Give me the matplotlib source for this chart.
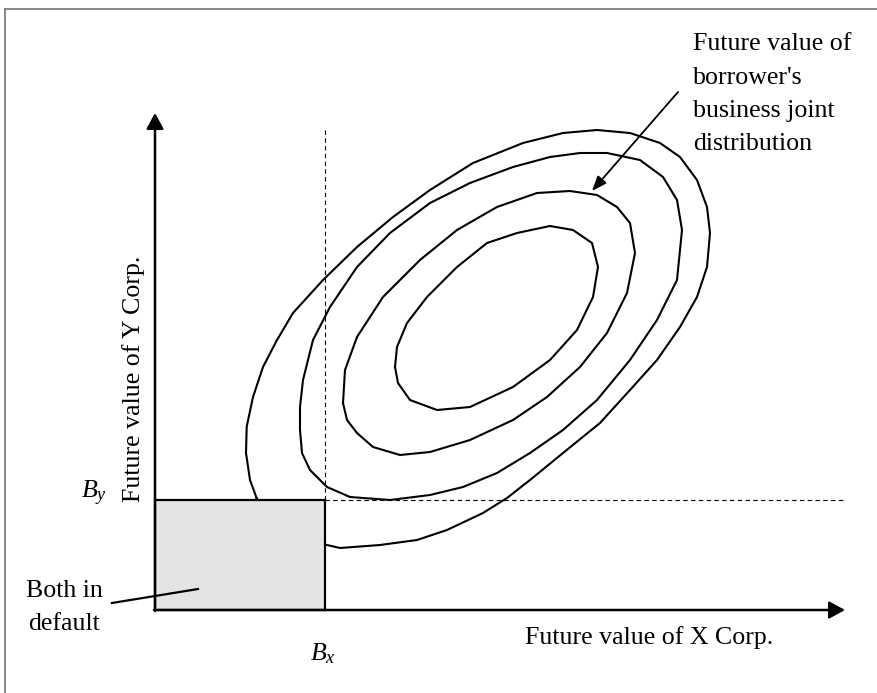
import matplotlib
matplotlib.use("Agg")
import matplotlib.pyplot as plt
from matplotlib.patches import Rectangle
from matplotlib.lines import Line2D

plt.rcParams["font.family"] = ["Liberation Serif", "DejaVu Serif"]
plt.rcParams["mathtext.fontset"] = "custom"
plt.rcParams["mathtext.it"] = "Liberation Serif:italic"
plt.rcParams["mathtext.rm"] = "Liberation Serif"

# Default thresholds of the two firms
B_X = 17.0
B_Y = 11.0

# Iso-density contours of the joint distribution of future values (x, y)
outer_x = [10.17, 9.5, 9.1, 9.17, 9.8, 10.8, 12.2, 13.8, 16.8, 20.2, 23.8, 27.5, 31.8,
           36.8, 40.8, 44.2, 47.5, 50.5, 52.5, 54.2, 55.2, 55.5, 55.2, 54.2, 52.5, 50.2,
           47.5, 44.5, 40.8, 37.5, 35.2, 32.8, 29.2, 26.2, 22.5, 18.5, 17.2, 14.5, 11.5, 10.17]
outer_y = [11.17, 13.0, 15.7, 18.33, 21.3, 24.3, 27.0, 29.7, 33.0, 36.3, 39.3, 42.0, 44.7,
           46.7, 47.7, 48.0, 47.7, 46.7, 45.3, 43.0, 40.3, 37.7, 34.3, 31.3, 28.3, 25.0,
           22.0, 18.7, 15.7, 13.0, 11.2, 9.7, 8.0, 7.0, 6.5, 6.2, 6.5, 7.0, 9.0, 11.17]

second_x = [14.5, 14.7, 15.5, 17.2, 19.5, 23.5, 27.5, 30.8, 34.2, 37.5, 40.8, 44.2, 47.5,
            50.2, 52.2, 52.7, 52.2, 50.8, 48.5, 45.2, 42.5, 39.5, 35.8, 31.5, 27.5, 23.5,
            20.2, 17.5, 15.8, 14.8, 14.5, 14.5]
second_y = [18.0, 15.7, 14.0, 12.3, 11.3, 11.0, 11.5, 12.3, 13.7, 15.7, 18.0, 21.0, 25.0,
            29.0, 33.0, 38.0, 41.0, 43.3, 45.0, 45.7, 45.7, 45.3, 44.3, 42.7, 40.7, 37.7,
            34.3, 30.3, 27.0, 23.0, 20.3, 18.0]

third_x = [18.8, 19.2, 20.2, 21.8, 24.5, 27.5, 31.5, 35.8, 39.2, 42.5, 45.2, 47.2, 48.0,
           47.5, 46.2, 44.2, 41.5, 38.2, 34.2, 30.2, 26.5, 22.8, 20.2, 19.0, 18.8]
third_y = [20.7, 19.0, 17.7, 16.3, 15.5, 15.8, 17.0, 19.0, 21.3, 24.3, 27.7, 31.7, 35.7,
           38.7, 40.3, 41.5, 41.9, 41.7, 40.3, 38.0, 35.0, 31.3, 27.3, 24.0, 20.7]

inner_x = [24.0, 24.3, 25.5, 28.2, 31.5, 35.8, 39.5, 42.2, 43.8, 44.3, 43.7, 41.8, 39.5,
           36.2, 33.2, 30.2, 27.2, 25.2, 24.2, 24.0]
inner_y = [24.3, 22.7, 21.0, 20.0, 20.3, 22.3, 25.0, 28.0, 31.3, 34.3, 36.7, 38.0, 38.4,
           37.7, 36.7, 34.3, 31.3, 28.7, 26.3, 24.3]

contours = [(outer_x, outer_y), (second_x, second_y), (third_x, third_y), (inner_x, inner_y)]

fig = plt.figure(figsize=(8.77, 6.93), dpi=100)
ax = fig.add_axes([0, 0, 1, 1])
ax.set_xlim(-15.5, 72.2)
ax.set_ylim(-8.3, 61.0)
ax.axis("off")

# Outer grey frame (open at right and bottom)
frame_kw = dict(color="#7f7f7f", lw=1.3, transform=fig.transFigure)
fig.add_artist(Line2D([4.5 / 877, 4.5 / 877], [0, 1 - 8.5 / 693], **frame_kw))
fig.add_artist(Line2D([4.5 / 877, 1], [1 - 8.5 / 693, 1 - 8.5 / 693], **frame_kw))

for cx, cy in contours:
    ax.plot(cx, cy, color="black", lw=1.5, zorder=2)

# Joint default region
ax.add_patch(Rectangle((0, 0), B_X, B_Y, facecolor="#e4e4e4", edgecolor="black",
                       lw=1.6, zorder=4))

# Threshold guides
ax.plot([B_X, B_X], [B_Y, 48.3], color="black", lw=0.8, ls=(0, (4, 3)), zorder=3)
ax.plot([B_X, 68.8], [B_Y, B_Y], color="black", lw=0.8, ls=(0, (4, 3)), zorder=3)

# Axes with arrowheads
axis_arrow = dict(arrowstyle="-|>,head_length=0.95,head_width=0.52", color="black",
                  lw=1.8, shrinkA=0, shrinkB=0, mutation_scale=10)
ax.annotate("", xy=(0, 49.7), xytext=(0, -0.1), arrowprops=axis_arrow, zorder=5)
ax.annotate("", xy=(69.0, 0), xytext=(-0.1, 0), arrowprops=axis_arrow, zorder=5)

fs = 18.6
ax.text(37.0, -3.4, "Future value of X Corp.", fontsize=fs, ha="left", va="baseline")
ax.text(-1.5, 10.8, "Future value of Y Corp.", fontsize=fs, rotation=90,
        rotation_mode="anchor", ha="left", va="baseline")

ax.text(15.5, -5.0, r"$B_x$", fontsize=fs, ha="left", va="baseline")
ax.text(-7.4, 11.2, r"$B_y$", fontsize=fs, ha="left", va="baseline")

# Joint default label
ax.text(-9.1, 1.3, "Both in", fontsize=fs, ha="center", va="baseline")
ax.text(-9.1, -2.0, "default", fontsize=fs, ha="center", va="baseline")
ax.plot([-4.3, 4.3], [0.7, 2.1], color="black", lw=1.6, zorder=5)

# Distribution callout
callout = ["Future value of", "borrower's", "business joint", "distribution"]
for i, line in enumerate(callout):
    ax.text(53.8, 56.0 - 3.35 * i, line, fontsize=fs, ha="left", va="baseline")
ax.annotate("", xy=(43.7, 41.9), xytext=(52.3, 51.8),
            arrowprops=dict(arrowstyle="-|>,head_length=0.9,head_width=0.35",
                            color="black", lw=1.3, shrinkA=0, shrinkB=0,
                            mutation_scale=10))

fig.savefig("out.png", dpi=100)
